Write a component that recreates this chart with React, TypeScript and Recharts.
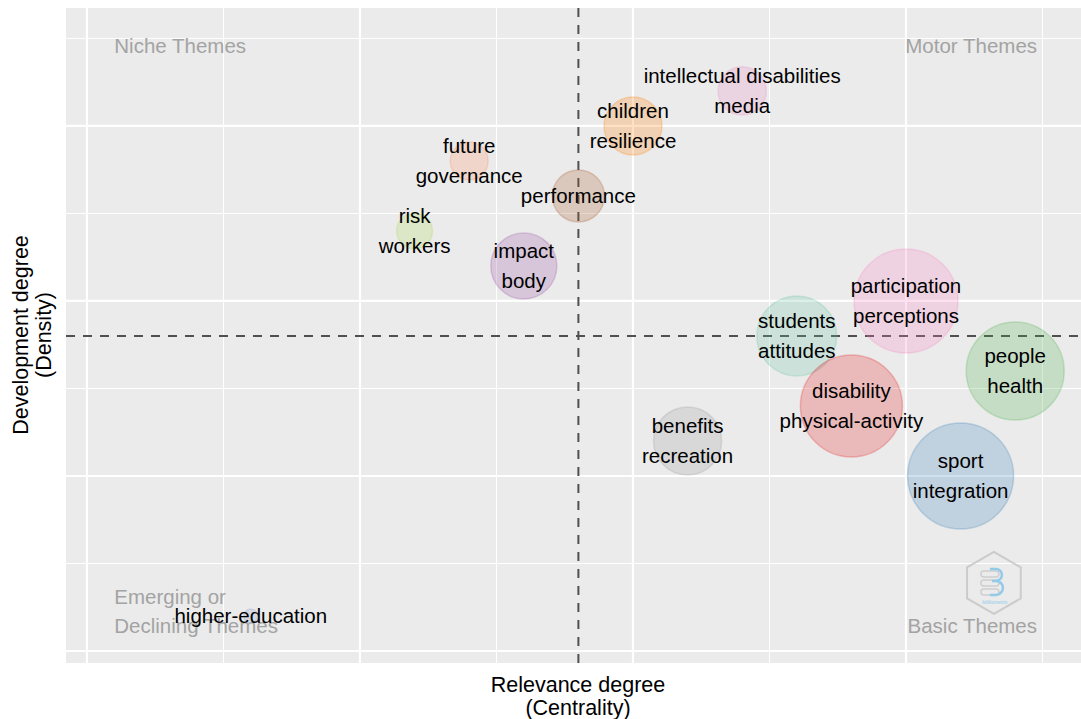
import { ScatterChart, Scatter, XAxis, YAxis, ZAxis, CartesianGrid, ReferenceLine, ReferenceDot } from 'recharts';

// thematic map clusters: label words, centrality (x), density (y), frequency (bubble size)
const clusterLabels = [
  ['intellectual disabilities', 'media'],
  ['children', 'resilience'],
  ['future', 'governance'],
  ['performance'],
  ['risk', 'workers'],
  ['impact', 'body'],
  ['participation', 'perceptions'],
  ['students', 'attitudes'],
  ['people', 'health'],
  ['disability', 'physical-activity'],
  ['benefits', 'recreation'],
  ['sport', 'integration'],
  ['higher-education'],
];
const centrality = [2.4, 2.0, 1.4, 1.8, 1.2, 1.6, 3.0, 2.6, 3.4, 2.8, 2.2, 3.2, 0.6];
const density = [3.2, 3.0, 2.8, 2.6, 2.4, 2.2, 2.0, 1.8, 1.6, 1.4, 1.2, 1.0, 0.2];
const frequency = [58, 84, 36, 68, 32, 109, 270, 160, 240, 260, 116, 281, 5];
const clusterColors = [
  '#e78ac3', '#ff7f00', '#fc8d62', '#a65628', '#a6d854', '#984ea3', '#f781bf',
  '#66c2a5', '#4daf4a', '#e41a1c', '#999999', '#377eb8', '#8da0cb',
];

const majorTicks = [0, 1, 2, 3];
const minorTicks = [0.5, 1.5, 2.5, 3.5];
const centralityCut = 1.8;
const densityCut = 1.8;

const quadrantLabels = [
  { text: 'Niche Themes', x: 0.1, y: 3.457, anchor: 'start' },
  { text: 'Motor Themes', x: 3.48, y: 3.457, anchor: 'end' },
  { text: 'Emerging or', x: 0.1, y: 0.309, anchor: 'start' },
  { text: 'Declining Themes', x: 0.1, y: 0.143, anchor: 'start' },
  { text: 'Basic Themes', x: 3.48, y: 0.143, anchor: 'end' },
];

const data = clusterLabels.map((words, i) => ({
  words,
  x: centrality[i],
  y: density[i],
  freq: frequency[i],
  color: clusterColors[i],
}));

const FONT = '"Liberation Sans", Arial, Helvetica, sans-serif';

const Bubble = (props: any) => {
  const { cx, cy, size, payload } = props;
  const r = Math.sqrt((size || 0) / Math.PI);
  return (
    <circle cx={cx} cy={cy} r={r} fill={payload.color} fillOpacity={0.24}
      stroke={payload.color} strokeOpacity={0.25} strokeWidth={1.5} />
  );
};

const BubbleLabel = (props: any) => {
  const { cx, cy, payload } = props;
  const words: string[] = payload.words;
  const gap = 30;
  const start = cy - ((words.length - 1) * gap) / 2;
  return (
    <g>
      {words.map((w, i) => (
        <text key={w} x={cx} y={start + i * gap} dy="0.35em" textAnchor="middle"
          fontFamily={FONT} fontSize={20.5} fill="#000">{w}</text>
      ))}
    </g>
  );
};

const Logo = (props: any) => {
  const { cx, cy } = props;
  const R = 31;
  const pts = [0, 1, 2, 3, 4, 5]
    .map((k) => {
      const a = (Math.PI / 3) * k - Math.PI / 2;
      return `${cx + R * Math.cos(a)},${cy + R * Math.sin(a)}`;
    })
    .join(' ');
  return (
    <g opacity={0.8}>
      <polygon points={pts} fill="none" stroke="#c4c4c4" strokeWidth={2} />
      <rect x={cx - 13} y={cy - 12} width={18} height={6} rx={3} fill="none" stroke="#c8c8c8" strokeWidth={1.5} />
      <rect x={cx - 13} y={cy - 3} width={18} height={6} rx={3} fill="none" stroke="#c8c8c8" strokeWidth={1.5} />
      <rect x={cx - 13} y={cy + 6} width={18} height={6} rx={3} fill="none" stroke="#c8c8c8" strokeWidth={1.5} />
      <path d={`M ${cx - 4} ${cy - 14} h 6 a 6 6 0 0 1 0 12 h -4 h 4 a 7 7 0 0 1 0 14 h -6`}
        fill="none" stroke="#7cc4ea" strokeWidth={2.5} />
      <text x={cx + 1} y={cy + 21} textAnchor="middle" fontFamily={FONT} fontSize={5} fill="#7cc4ea">bibliometrix</text>
    </g>
  );
};

export default function App() {
  return (
    <div style={{ position: 'absolute', left: 0, top: 0, width: 1081, height: 719, background: '#fff' }}>
      <ScatterChart width={1081} height={719} margin={{ top: 8, right: -9, bottom: 56, left: 66 }}>
        <CartesianGrid fill="#EBEBEB" stroke="none" horizontal={false} vertical={false} />
        <XAxis type="number" dataKey="x" domain={[-0.0769, 3.674]} ticks={majorTicks}
          allowDataOverflow tick={false} tickLine={false} axisLine={false} height={0} />
        <YAxis type="number" dataKey="y" domain={[-0.0686, 3.674]} ticks={majorTicks}
          allowDataOverflow tick={false} tickLine={false} axisLine={false} width={0} />
        <ZAxis type="number" dataKey="freq" domain={[0, 300]} range={[0, Math.PI * 3000]} />
        {minorTicks.map((v) => (
          <ReferenceLine key={`vx${v}`} x={v} stroke="#FFFFFF" strokeWidth={1} />
        ))}
        {minorTicks.map((v) => (
          <ReferenceLine key={`hy${v}`} y={v} stroke="#FFFFFF" strokeWidth={1} />
        ))}
        {majorTicks.map((v) => (
          <ReferenceLine key={`VX${v}`} x={v} stroke="#FFFFFF" strokeWidth={2.2} />
        ))}
        {majorTicks.map((v) => (
          <ReferenceLine key={`HY${v}`} y={v} stroke="#FFFFFF" strokeWidth={2.2} />
        ))}
        {quadrantLabels.map((q) => (
          <ReferenceDot key={q.text} x={q.x} y={q.y} r={0}
            shape={(p: any) => (
              <text x={p.cx} y={p.cy} dy="0.35em" textAnchor={q.anchor} fontFamily={FONT}
                fontSize={20.5} fill="#a3a3a3">{q.text}</text>
            )} />
        ))}
        <ReferenceDot x={3.322} y={0.389} r={0} shape={(p: any) => <Logo {...p} />} />
        <Scatter data={data} shape={Bubble} isAnimationActive={false} />
        <ReferenceLine x={centralityCut} stroke="#505050" strokeWidth={2} strokeDasharray="9 8" />
        <ReferenceLine y={densityCut} stroke="#505050" strokeWidth={2} strokeDasharray="9 8" />
        <Scatter data={data} shape={BubbleLabel} isAnimationActive={false} />
      </ScatterChart>
      <svg width={1081} height={719} style={{ position: 'absolute', left: 0, top: 0, pointerEvents: 'none' }}>
        <g fontFamily={FONT} fontSize={21.5} fill="#000" textAnchor="middle">
          <text x={578} y={684} dy="0.35em">Relevance degree</text>
          <text x={578} y={707} dy="0.35em">(Centrality)</text>
          <text x={20} y={335} dy="0.35em" transform="rotate(-90 20 335)">Development degree</text>
          <text x={43} y={335} dy="0.35em" transform="rotate(-90 43 335)">(Density)</text>
        </g>
      </svg>
    </div>
  );
}
